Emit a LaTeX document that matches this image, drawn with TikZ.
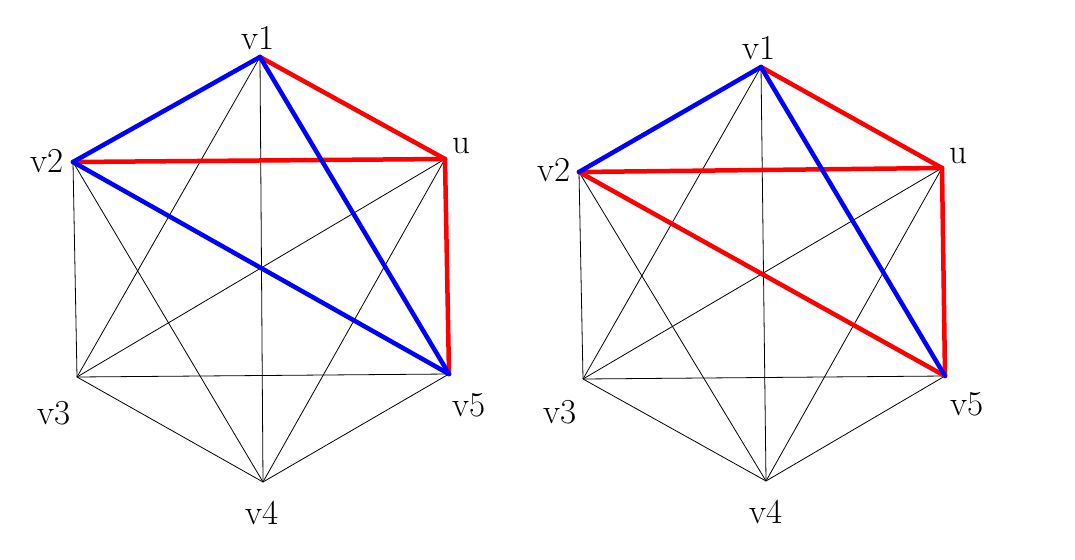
\documentclass[tikz,border=0pt]{standalone}
\usepackage{fontspec}
\setmainfont{Latin Modern Roman}
\begin{document}
\begin{tikzpicture}[x=1pt,y=-1pt,
  thin edge/.style={black, line width=0.8pt},
  red edge/.style={draw={rgb,255:red,255;green,0;blue,0}, line width=4.5pt, line cap=round},
  blue edge/.style={draw={rgb,255:red,0;green,0;blue,255}, line width=4.5pt, line cap=round},
  lbl/.style={font=\fontsize{35}{42}\selectfont, inner sep=0pt}]
\useasboundingbox (0,0) rectangle (1075,559);
% left graph
\coordinate (Lv1) at (260,57);
\coordinate (Lu)  at (445,159);
\coordinate (Lv5) at (449,374);
\coordinate (Lv4) at (263,482);
\coordinate (Lv3) at (77,377);
\coordinate (Lv2) at (73,162);
% right graph
\coordinate (Rv1) at (761,67);
\coordinate (Ru)  at (942,168);
\coordinate (Rv5) at (945,376);
\coordinate (Rv4) at (766,481);
\coordinate (Rv3) at (583,379);
\coordinate (Rv2) at (579,172);
\foreach \g in {L,R}{
  \foreach \a/\b in {v1/u,v1/v5,v1/v4,v1/v3,v1/v2,u/v5,u/v4,u/v3,u/v2,v5/v4,v5/v3,v5/v2,v4/v3,v4/v2,v3/v2}
    \draw[thin edge] (\g\a) -- (\g\b);
}
% left colored
\draw[red edge] (Lv1) -- (Lu);
\draw[red edge] (Lv2) -- (Lu);
\draw[red edge] (Lu) -- (Lv5);
\draw[blue edge] (Lv1) -- (Lv2);
\draw[blue edge] (Lv2) -- (Lv5);
\draw[blue edge] (Lv1) -- (Lv5);
% right colored
\draw[red edge] (Rv1) -- (Ru);
\draw[red edge] (Rv2) -- (Ru);
\draw[red edge] (Ru) -- (Rv5);
\draw[red edge] (Rv2) -- (Rv5);
\draw[blue edge] (Rv1) -- (Rv2);
\draw[blue edge] (Rv1) -- (Rv5);
% labels
\node[lbl] (lLv1) at (258,38) {v1};
\node[lbl] (lLu)  at (461,146) {u};
\node[lbl] (lLv2) at (47,161) {v2};
\node[lbl] (lLv3) at (54,413) {v3};
\node[lbl] (lLv5) at (469,405) {v5};
\node[lbl] (lLv4) at (262,513) {v4};
\node[lbl] (lRv1) at (759,48) {v1};
\node[lbl] (lRu)  at (958,156) {u};
\node[lbl] (lRv2) at (554,170) {v2};
\node[lbl] (lRv3) at (560,412) {v3};
\node[lbl] (lRv5) at (967,404) {v5};
\node[lbl] (lRv4) at (766,512) {v4};
\end{tikzpicture}
\end{document}
